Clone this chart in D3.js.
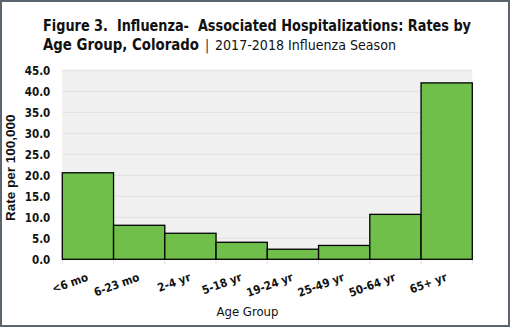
<!DOCTYPE html>
<html><head><meta charset="utf-8">
<script src="https://cdn.jsdelivr.net/npm/d3@7"></script>
<style>body{margin:0;background:#fff}svg{display:block}</style>
</head><body>
<script>
const categories = ["<6 mo","6-23 mo","2-4 yr","5-18 yr","19-24 yr","25-49 yr","50-64 yr","65+ yr"];
const rates = [20.6, 8.1, 6.2, 4.05, 2.4, 3.3, 10.7, 42.0];
const yTicks = [0,5,10,15,20,25,30,35,40,45];
const titleLine1 = "Figure 3.  Influenza-  Associated Hospitalizations: Rates by";
const titleLine2Bold = "Age Group, Colorado";
const titleLine2Sep = "|";
const titleLine2Normal = "2017-2018 Influenza Season";
const yTitle = "Rate per 100,000";
const xTitle = "Age Group";

const W = 510, H = 327;
const m = {left: 62.3, right: 472.3, top: 70.3, bottom: 259.3};
const svg = d3.select("body").append("svg").attr("width", W).attr("height", H);

svg.append("rect").attr("x",1).attr("y",1).attr("width",W-2).attr("height",H-2)
  .attr("fill","#fff").attr("stroke","#5b6670").attr("stroke-width",2);

const x = d3.scaleBand().domain(categories).range([m.left, m.right]).padding(0);
const y = d3.scaleLinear().domain([0,45]).range([m.bottom, m.top]);

svg.append("rect").attr("x", m.left).attr("y", m.top).attr("width", m.right-m.left)
  .attr("height", m.bottom-m.top).attr("fill","#f0f0f0");

// gridlines
svg.append("g").selectAll("line").data(yTicks.slice(1)).join("line")
  .attr("x1", m.left).attr("x2", m.right).attr("y1", d=>y(d)).attr("y2", d=>y(d))
  .attr("stroke","#e0e0e0").attr("stroke-width",1);

// x ticks
const bounds = categories.map(c=>x(c)).concat([m.right]);
svg.append("g").selectAll("line").data(bounds).join("line")
  .attr("x1", d=>d).attr("x2", d=>d).attr("y1", m.bottom).attr("y2", m.bottom+5)
  .attr("stroke","#e0e0e0").attr("stroke-width",1);

// bars
svg.append("g").selectAll("rect").data(rates).join("rect")
  .attr("x",(d,i)=>x(categories[i])).attr("width", x.bandwidth())
  .attr("y", d=>y(d)).attr("height", d=>y(0)-y(d))
  .attr("fill","#6fbf4a").attr("stroke","#000").attr("stroke-width",1.3);

// y axis
const yAxis = d3.axisLeft(y).tickValues(yTicks).tickFormat(d3.format(".1f")).tickSize(0).tickPadding(0);
const ga = svg.append("g").attr("transform", `translate(${m.left-12},0)`).call(yAxis);
ga.select(".domain").remove();
ga.selectAll("text").attr("font-family","DejaVu Sans Condensed, DejaVu Sans").attr("font-weight","bold")
  .attr("font-size",11.5).attr("fill","#111").attr("dy","0.36em");

// x axis labels
const xAxis = d3.axisBottom(x).tickSize(0).tickPadding(0);
const gx = svg.append("g").attr("transform", `translate(0,${m.bottom})`).call(xAxis);
gx.select(".domain").remove();
gx.selectAll("text").attr("font-family","DejaVu Sans Condensed, DejaVu Sans").attr("font-weight","bold")
  .attr("font-size",11.5).attr("fill","#111").attr("text-anchor","end").attr("dy",0).attr("y",0)
  .attr("transform","translate(1,21) rotate(-20)");

// axis titles
svg.append("text").attr("transform",`translate(15,${(m.top+m.bottom)/2+3}) rotate(-90)`)
  .attr("text-anchor","middle").attr("font-family","Liberation Sans, Arial").attr("font-weight","bold")
  .attr("font-size",13.5).attr("fill","#111").text(yTitle);
svg.append("text").attr("x",247.5).attr("y",316).attr("text-anchor","middle")
  .attr("font-family","DejaVu Sans Condensed, DejaVu Sans").attr("font-size",13).attr("fill","#111").text(xTitle);

// title
const tf = "DejaVu Sans Condensed, DejaVu Sans";
svg.append("text").attr("x",43).attr("y",31).attr("font-family",tf).attr("font-weight","bold")
  .attr("font-size",15).attr("fill","#111").attr("textLength",428).attr("lengthAdjust","spacingAndGlyphs")
  .attr("xml:space","preserve").text(titleLine1);
svg.append("text").attr("x",43).attr("y",50).attr("font-family",tf).attr("font-weight","bold")
  .attr("font-size",15).attr("fill","#111").attr("textLength",156).attr("lengthAdjust","spacingAndGlyphs")
  .text(titleLine2Bold);
svg.append("text").attr("x",207).attr("y",50).attr("text-anchor","middle").attr("font-family",tf)
  .attr("font-size",14).attr("fill","#333").text(titleLine2Sep);
svg.append("text").attr("x",215).attr("y",50).attr("font-family",tf)
  .attr("font-size",14).attr("fill","#111").attr("textLength",181).attr("lengthAdjust","spacingAndGlyphs")
  .text(titleLine2Normal);
</script>
</body></html>
